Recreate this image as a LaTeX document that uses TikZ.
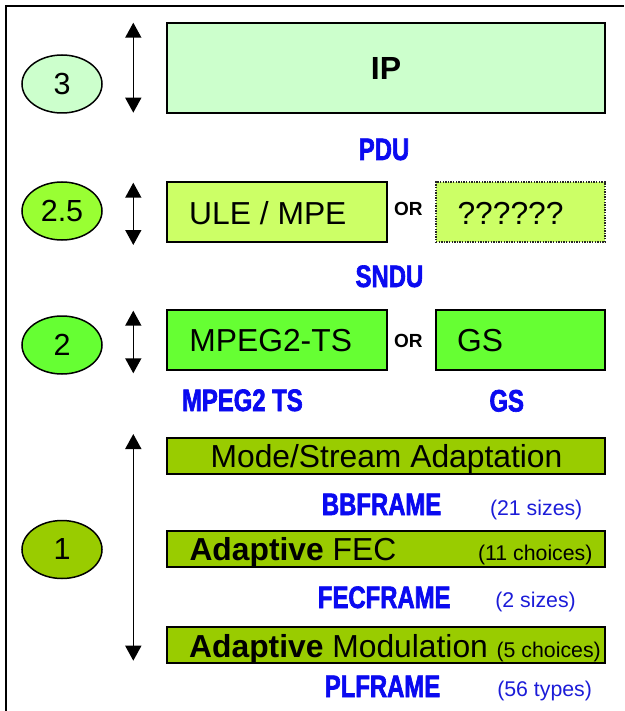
\documentclass[tikz,border=0pt]{standalone}
\usepackage{fontspec}
\setmainfont{Liberation Sans}
\newfontfamily\tagfont[FakeStretch=0.77,FakeBold=2]{Liberation Sans}
\usetikzlibrary{arrows.meta,shapes.geometric}

\definecolor{ipfill}{HTML}{CCFFCC}
\definecolor{snfill}{HTML}{CCFF66}
\definecolor{midfill}{HTML}{99FF33}
\definecolor{tsfill}{HTML}{66FF33}
\definecolor{phyfill}{HTML}{99CC00}
\definecolor{tagblue}{HTML}{0A0AF0}
\definecolor{noteblue}{HTML}{1C1CD8}

\tikzset{
  layerbox/.style={draw=black, line width=1.9pt, inner sep=0pt, outer sep=0pt},
  openbox/.style={draw=black!85, line width=1.5pt, dash pattern=on 1.4pt off 1.2pt,
                  inner sep=0pt, outer sep=0pt},
  level/.style={ellipse, draw=black, line width=1.5pt, minimum width=80pt,
                minimum height=58pt, inner sep=0pt,
                font=\fontsize{30.5}{30.5}\selectfont},
  boxtext/.style={inner sep=0pt, anchor=base west, font=\fontsize{31.8}{31.8}\selectfont},
  boxtextc/.style={inner sep=0pt, anchor=base, font=\fontsize{31.8}{31.8}\selectfont},
  choice/.style={inner sep=0pt, anchor=base east, font=\fontsize{21.3}{21.3}\selectfont},
  ortext/.style={inner sep=0pt, anchor=base, font=\fontsize{19}{19}\selectfont\bfseries},
  tag/.style={inner sep=0pt, anchor=base, text=tagblue,
              font=\fontsize{31}{31}\tagfont\bfseries},
  note/.style={inner sep=0pt, anchor=base, text=noteblue,
               font=\fontsize{21.3}{21.3}\selectfont},
  span/.style={line width=1.6pt, {Triangle[width=16pt,length=15pt]}-{Triangle[width=16pt,length=15pt]}},
}

\begin{document}
\begin{tikzpicture}[x=1pt, y=-1pt]
\useasboundingbox (0,0) rectangle (624,711);

% outer frame (top and left edges)
\draw[line width=2pt] (6,711) -- (6,6) -- (624,6);

% ---- layer 3 ----
\node[level, fill=ipfill] (l3) at (62,84) {3};
\coordinate (a3t) at (133.3,22.7);
\coordinate (a3b) at (133.3,112.7);
\draw[span] (a3t) -- (a3b);
\node[layerbox, fill=ipfill, minimum width=438pt, minimum height=90pt] (ip) at (386,68) {};
\node[boxtextc, font=\fontsize{32}{32}\selectfont\bfseries] (iptext) at (386,79.5) {IP};
\node[tag] (pdu) at (384,160) {PDU};

% ---- layer 2.5 ----
\node[level, fill=midfill] (l25) at (62,211) {2.5};
\coordinate (a25t) at (133.3,182.7);
\coordinate (a25b) at (133.3,245);
\draw[span] (a25t) -- (a25b);
\node[layerbox, fill=snfill, minimum width=219.7pt, minimum height=60pt] (ule) at (276.9,212) {};
\node[boxtext] (uletext) at (189,224) {ULE / MPE};
\node[ortext] (or1) at (408.3,215) {OR};
\node[openbox, fill=snfill, minimum width=169pt, minimum height=60pt] (unk) at (520.5,212) {};
\node[boxtext] (unktext) at (457.3,224) {??????};
\node[tag] (sndu) at (389.4,287) {SNDU};

% ---- layer 2 ----
\node[level, fill=tsfill] (l2) at (62,345) {2};
\coordinate (a2t) at (133.3,310.7);
\coordinate (a2b) at (133.3,373.3);
\draw[span] (a2t) -- (a2b);
\node[layerbox, fill=tsfill, minimum width=219.7pt, minimum height=60pt] (ts) at (276.9,340) {};
\node[boxtext] (tstext) at (189.2,351.5) {MPEG2-TS};
\node[ortext] (or2) at (408.3,347) {OR};
\node[layerbox, fill=tsfill, minimum width=169pt, minimum height=60pt] (gs) at (520.5,340) {};
\node[boxtext] (gstext) at (457,351.5) {GS};
\node[tag] (tstag) at (242.4,411) {MPEG2 TS};
\node[tag] (gstag) at (506.7,411.5) {GS};

% ---- layer 1 ----
\node[level, fill=phyfill] (l1) at (62,549.5) {1};
\coordinate (a1t) at (133.3,434);
\coordinate (a1b) at (133.3,660.7);
\draw[span] (a1t) -- (a1b);

\node[layerbox, fill=phyfill, minimum width=438pt, minimum height=36pt] (mode) at (386,456) {};
\node[boxtextc] (modetext) at (386.5,467) {Mode/Stream Adaptation};
\node[tag] (bb) at (381.6,515) {BBFRAME};
\node[note] (bbn) at (536.2,515) {(21 sizes)};

\node[layerbox, fill=phyfill, minimum width=438pt, minimum height=36pt] (fec) at (386,549) {};
\node[boxtext] (fectext) at (189.3,560.5) {\textbf{Adaptive} FEC};
\node[choice] (fecn) at (592.7,560) {(11 choices)};
\node[tag] (fecf) at (384.2,608) {FECFRAME};
\node[note] (fecfn) at (535.6,607) {(2 sizes)};

\node[layerbox, fill=phyfill, minimum width=438pt, minimum height=36pt] (mod) at (386,645) {};
\node[boxtext] (modtext) at (189,657) {\textbf{Adaptive} Modulation};
\node[choice] (modn) at (601,657) {(5 choices)};
\node[tag] (pl) at (382.5,697) {PLFRAME};
\node[note] (pln) at (544.6,696) {(56 types)};
\end{tikzpicture}
\end{document}
